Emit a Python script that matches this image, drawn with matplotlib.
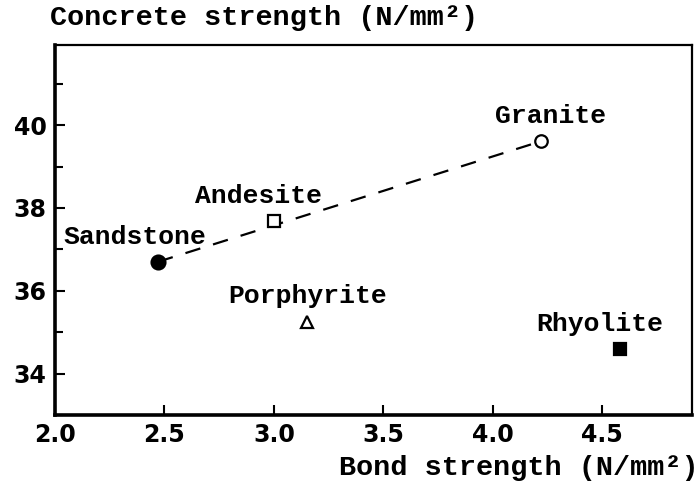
import matplotlib
matplotlib.use('Agg')

import numpy as np
import matplotlib.pyplot as plt
from matplotlib.ticker import MultipleLocator

# Dados
rochas = ['Sandstone', 'Andesite', 'Granite', 'Porphyrite', 'Rhyolite']
bond = [2.47, 3.00, 4.22, 3.15, 4.58]
concreto = [36.70, 37.69, 39.61, 35.25, 34.60]
marcadores = ['o', 's', 'o', '^', 's']
preenchido = [True, False, False, False, True]
tamanhos = [10, 9, 9, 8, 9]

# Linha tracejada (Sandstone -> Granite)
linha_x = [2.47, 4.22]
linha_y = [36.70, 39.61]

# Posicao dos rotulos (canto esquerdo, centro vertical)
rot_x = [2.04, 2.64, 4.01, 2.79, 4.20]
rot_y = [37.30, 38.29, 40.22, 35.88, 35.20]

x_ticks = [2.0, 2.5, 3.0, 3.5, 4.0, 4.5]
y_ticks = [34, 36, 38, 40]

fonte_mono = ['Liberation Mono', 'DejaVu Sans Mono']

fig = plt.figure(figsize=(6.99, 4.86), dpi=100)
ax = fig.add_axes([0.0787, 0.146, 0.9113, 0.761])

ax.plot(linha_x, linha_y, color='black', lw=1.6, linestyle=(0, (7, 6)))

for i in range(len(rochas)):
    fc = 'black' if preenchido[i] else 'white'
    ax.plot(bond[i], concreto[i], marker=marcadores[i], markersize=tamanhos[i],
            markerfacecolor=fc, markeredgecolor='black', markeredgewidth=1.6,
            linestyle='none', zorder=3)
    ax.text(rot_x[i], rot_y[i], rochas[i], family=fonte_mono, fontsize=19,
            fontweight='bold', ha='left', va='center')

ax.set_xlim(2.0, 4.91)
ax.set_ylim(33.0, 41.93)
ax.set_xticks(x_ticks)
ax.set_xticklabels([f'{v:.1f}' for v in x_ticks])
ax.set_yticks(y_ticks)
ax.yaxis.set_minor_locator(MultipleLocator(1))

ax.tick_params(axis='both', which='major', direction='in', length=7, width=1.5,
               labelsize=17, pad=6)
ax.tick_params(axis='y', which='minor', direction='in', length=6, width=1.5)
for lab in ax.get_xticklabels() + ax.get_yticklabels():
    lab.set_fontweight('bold')

ax.spines['left'].set_linewidth(2.6)
ax.spines['bottom'].set_linewidth(2.6)
ax.spines['top'].set_linewidth(1.6)
ax.spines['right'].set_linewidth(1.6)

fig.text(0.072, 0.963, 'Concrete strength (N/mm²)', family=fonte_mono,
         fontsize=20.5, fontweight='bold', ha='left', va='center')
fig.text(0.999, 0.037, 'Bond strength (N/mm²)', family=fonte_mono,
         fontsize=20.5, fontweight='bold', ha='right', va='center')

plt.savefig('out.png', dpi=100)
